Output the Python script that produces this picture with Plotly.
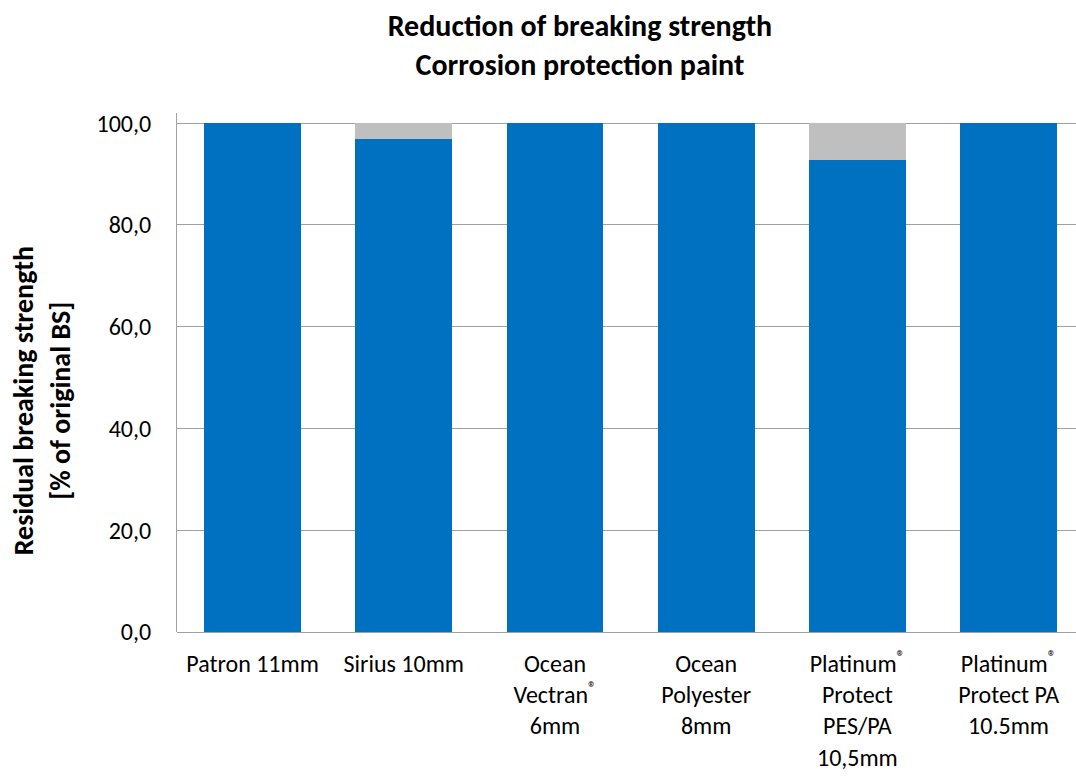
import plotly.graph_objects as go

categories = ["Patron 11mm", "Sirius 10mm", "Ocean<br>Vectran<sup>®</sup><br>6mm",
              "Ocean<br>Polyester<br>8mm", "Platinum<sup>®</sup><br>Protect<br>PES/PA<br>10,5mm",
              "Platinum<sup>®</sup><br>Protect PA<br>10.5mm"]
positions = list(range(len(categories)))
residual = [100.0, 96.9, 100.0, 100.0, 92.8, 100.0]
reduction = [0.0, 3.1, 0.0, 0.0, 7.2, 0.0]
yticks = [0, 20, 40, 60, 80, 100]
yticklabels = ["0,0", "20,0", "40,0", "60,0", "80,0", "100,0"]

FONT = "Carlito, Calibri, Lato, sans-serif"

fig = go.Figure()
fig.add_bar(x=positions, y=residual, marker=dict(color="#0070C0", line=dict(width=0)), width=0.64,
            name="Residual")
fig.add_bar(x=positions, y=reduction, marker=dict(color="#BFBFBF", line=dict(width=0)), width=0.64,
            name="Reduction")

fig.update_layout(
    barmode="stack",
    width=1076, height=776,
    margin=dict(l=177, r=0, t=113, b=144, autoexpand=False),
    paper_bgcolor="white", plot_bgcolor="white",
    showlegend=False,
    font=dict(family=FONT, size=20, color="#000000"),
    title=dict(text="<b>Reduction of breaking strength<br>Corrosion protection paint</b>",
               x=0.539, xanchor="center", y=0.953, yanchor="middle",
               font=dict(family=FONT, size=30, color="#000000")),
)
fig.add_annotation(text="<b>Residual breaking strength<br>[% of original BS]</b>",
                   xref="paper", yref="paper", x=-0.151, y=0.445,
                   xanchor="center", yanchor="middle", textangle=-90, showarrow=False,
                   font=dict(family=FONT, size=28, color="#000000"))
fig.update_xaxes(range=[-0.5, 5.446], tickmode="array", tickvals=positions, ticktext=categories,
                 showgrid=False, showline=False, ticks="", zeroline=False,
                 ticklabelstandoff=15, tickfont=dict(size=24))
fig.update_yaxes(range=[0, 102], tickmode="array", tickvals=yticks, ticktext=yticklabels,
                 showgrid=True, gridcolor="#A0A0A0", gridwidth=1,
                 showline=True, linecolor="#A0A0A0", linewidth=1,
                 zeroline=True, zerolinecolor="#A0A0A0", zerolinewidth=1,
                 ticks="", ticklabelstandoff=20, tickfont=dict(size=24))

fig.write_html("out.html")
